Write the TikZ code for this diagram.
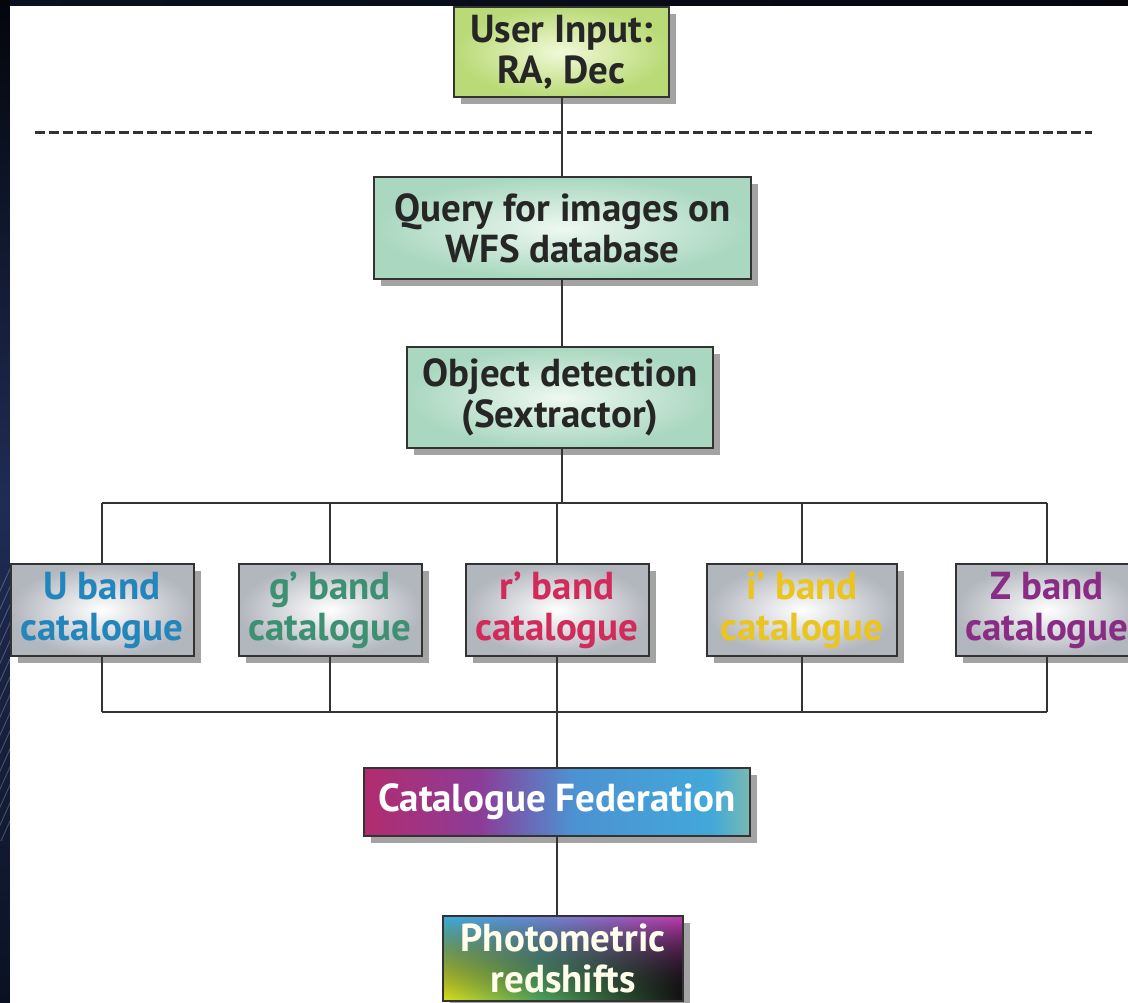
\documentclass[tikz,border=0pt]{standalone}
\usepackage{fontspec}
\setmainfont{PT Sans}
\usetikzlibrary{shadows,fadings}
\definecolor{frameA}{HTML}{04060C}
\definecolor{frameB}{HTML}{1F2C55}
\definecolor{frameC}{HTML}{0B1122}
\definecolor{userIn}{HTML}{F1F9D8}
\definecolor{userOut}{HTML}{B9DA76}
\definecolor{seaIn}{HTML}{EEF8F1}
\definecolor{seaOut}{HTML}{A9D7BF}
\definecolor{silverOut}{HTML}{B2B6BD}
\definecolor{txU}{HTML}{2285BC}
\definecolor{txg}{HTML}{3D9072}
\definecolor{txr}{HTML}{D22A5B}
\definecolor{txi}{HTML}{EAC41F}
\definecolor{txZ}{HTML}{8A2B86}
\definecolor{fedA}{HTML}{B22C6E}
\definecolor{fedB}{HTML}{8C3C98}
\definecolor{fedC}{HTML}{4C92D2}
\definecolor{fedD}{HTML}{42A8DA}
\definecolor{fedE}{HTML}{78BAB0}
\definecolor{phTL}{HTML}{3AAEE0}
\definecolor{phTM}{HTML}{7C7CD2}
\definecolor{phTR}{HTML}{C23CB2}
\definecolor{phBL}{HTML}{DCE220}
\definecolor{phBM}{HTML}{4FA35E}
\definecolor{phBR}{HTML}{121212}
\definecolor{linec}{HTML}{333333}
\pgfdeclarehorizontalshading{fedshade}{100bp}{color(0bp)=(fedA); color(25bp)=(fedA); color(40bp)=(fedB); color(52bp)=(fedC); color(70bp)=(fedD); color(75bp)=(fedE); color(100bp)=(fedE)}
\pgfdeclarehorizontalshading{phtop}{100bp}{color(0bp)=(phTL); color(25bp)=(phTL); color(50bp)=(phTM); color(75bp)=(phTR); color(100bp)=(phTR)}
\pgfdeclarehorizontalshading{phbot}{100bp}{color(0bp)=(phBL); color(25bp)=(phBL); color(45bp)=(phBM); color(75bp)=(phBR); color(100bp)=(phBR)}
\tikzset{
  box/.style={draw=linec, line width=2pt, inner sep=0pt, align=center,
    font=\fontsize{39}{41}\selectfont\bfseries,
    drop shadow={shadow xshift=7pt, shadow yshift=-7pt, opacity=0.55, fill=black!65}},
  userbox/.style={box, inner color=userIn, outer color=userOut, text=black!85},
  seabox/.style={box, inner color=seaIn, outer color=seaOut, text=black!85},
  bandbox/.style={box, inner color=white, outer color=silverOut, minimum width=183pt, minimum height=92pt},
  fedbox/.style={box, shading=fedshade, text=white},
  photobox/.style={box, shading=phtop, text=white!92!yellow,
    path picture={\fill[shading=phbot, path fading=north]
      (path picture bounding box.south west) rectangle (path picture bounding box.north east);}},
  conn/.style={draw=linec, line width=2pt},
}
\begin{document}
\begin{tikzpicture}[x=1pt, y=-1pt]
\useasboundingbox (0,0) rectangle (1128,1003);
% frame
\fill[top color=frameA, bottom color=frameC, middle color=frameB] (0,0) rectangle (10,1003);
\fill[left color=frameC, right color=frameA] (10,0) rectangle (1128,6);
\begin{scope}
\clip (0,560) rectangle (10,840);
\foreach \k in {0,...,14} \draw[white, opacity=0.25, line width=0.8pt] (-4,600+18*\k) -- (14,560+18*\k);
\end{scope}
\fill[white] (10,6) rectangle (1128,1003);
% dashed separator
\coordinate (dl) at (35,133);
\coordinate (dr) at (1092,133);
\draw[linec, line width=3pt, dash pattern=on 10pt off 4pt] (dl) -- (dr);
% nodes
\node[userbox, minimum width=215pt, minimum height=90pt] (user) at (561.5,52) {User Input:\\RA, Dec};
\node[seabox, minimum width=377pt, minimum height=102pt] (query) at (562.5,228) {Query for images on\\WFS database};
\node[seabox, minimum width=306pt, minimum height=101pt] (detect) at (560,397.5) {Object detection\\(Sextractor)};
\node[bandbox, text=txU] (bU) at (102,610) {U band\\catalogue};
\node[bandbox, text=txg] (bg) at (330,610) {g’ band\\catalogue};
\node[bandbox, text=txr] (br) at (557,610) {r’ band\\catalogue};
\node[bandbox, text=txi, minimum width=190pt] (bi) at (802,610) {i’ band\\catalogue};
\node[bandbox, text=txZ] (bZ) at (1047,610) {Z band\\catalogue};
\node[fedbox, minimum width=386pt, minimum height=68pt] (fed) at (557,802) {Catalogue Federation};
\node[photobox, minimum width=240pt, minimum height=85pt] (photo) at (563,958.5) {Photometric\\redshifts};
% column coordinates
\coordinate (sp) at (562,0);
\coordinate (cU) at (102,0);
\coordinate (cg) at (330,0);
\coordinate (cr) at (557,0);
\coordinate (ci) at (802,0);
\coordinate (cZ) at (1047,0);
\coordinate (t1) at (562,503);
\coordinate (t2) at (557,712);
% connectors
\draw[conn] (user.south -| sp) -- (query.north -| sp);
\draw[conn] (query.south -| sp) -- (detect.north -| sp);
\draw[conn] (detect.south -| sp) -- (t1);
\draw[conn] (t1 -| cU) -- (t1 -| cZ);
\foreach \c/\n in {cU/bU, cg/bg, cr/br, ci/bi, cZ/bZ} {
  \draw[conn] (t1 -| \c) -- (\n.north -| \c);
  \draw[conn] (\n.south -| \c) -- (t2 -| \c);
}
\draw[conn] (t2 -| cU) -- (t2 -| cZ);
\draw[conn] (t2) -- (fed.north -| t2);
\draw[conn] (fed.south -| t2) -- (photo.north -| t2);
\end{tikzpicture}
\end{document}
